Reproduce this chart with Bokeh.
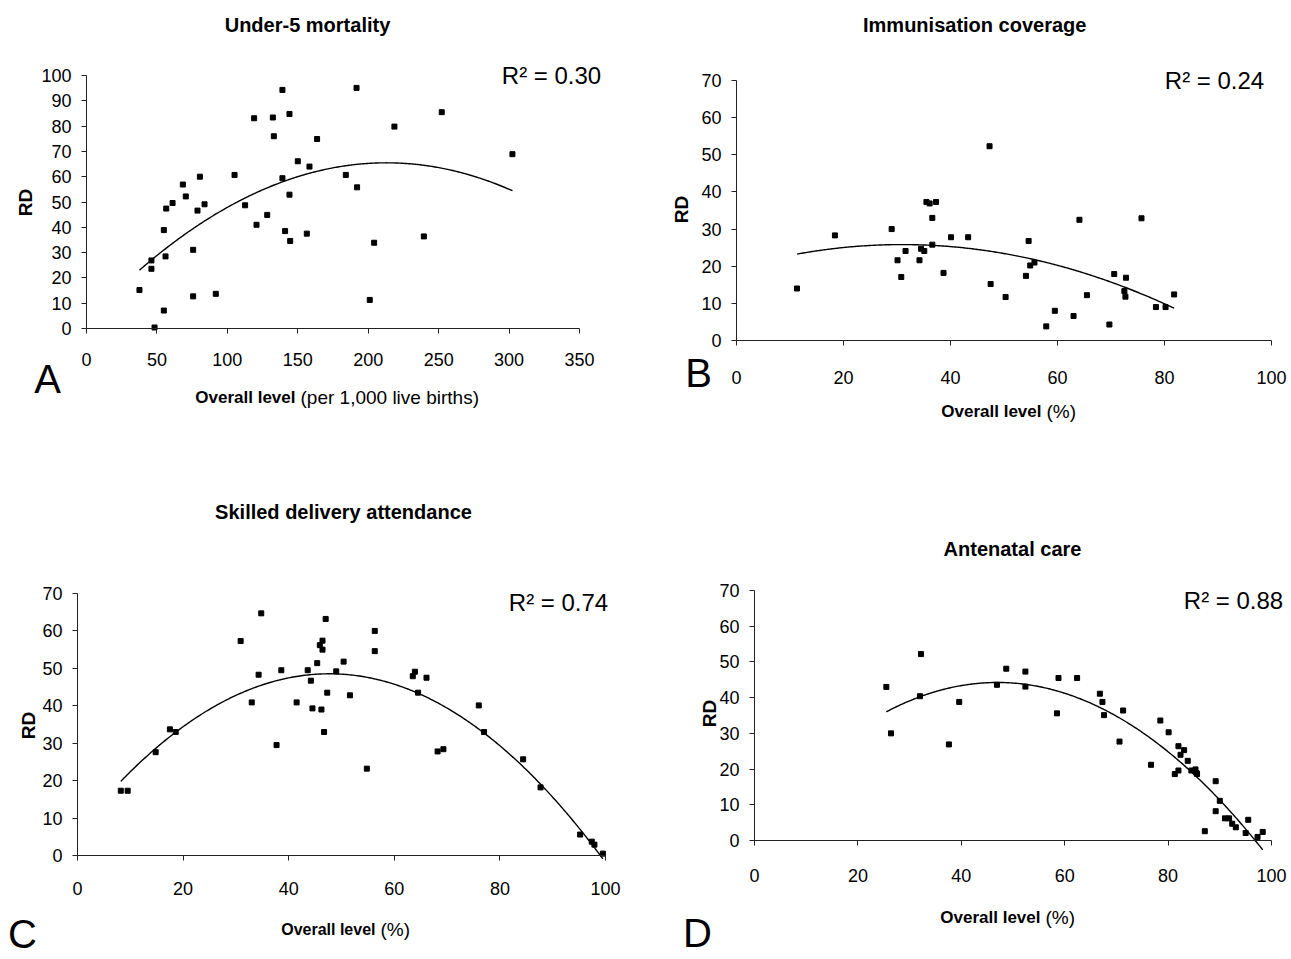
import numpy as np
from math import pi
from bokeh.plotting import figure
from bokeh.models import Range1d, FixedTicker, Label
from bokeh.layouts import row, column
from bokeh.embed import file_html
from bokeh.resources import INLINE

# ---------------- data ----------------
a_title = "Under-5 mortality"
a_x = [37.6, 46.1, 46.1, 48.3, 54.9, 54.9, 56.1, 56.6, 61.1, 68.4, 70.5, 75.7, 75.7,
       78.8, 80.5, 83.8, 91.8, 105.1, 112.6, 119.0, 120.7, 128.3, 132.3, 133.0, 139.1,
       139.1, 141.0, 144.1, 144.1, 144.6, 150.0, 156.4, 158.3, 163.7, 184.1, 191.7,
       192.1, 201.1, 204.2, 218.6, 239.5, 252.2, 302.4]
a_y = [15.2, 26.9, 23.6, 0.4, 7.1, 38.9, 28.5, 47.4, 49.6, 56.9, 52.2, 31.1, 12.7,
       46.6, 60.0, 49.1, 13.7, 60.7, 48.7, 83.1, 41.0, 44.9, 83.4, 76.0, 94.3,
       59.4, 38.5, 84.8, 52.9, 34.6, 66.1, 37.5, 64.0, 74.9, 60.7, 95.1,
       55.8, 11.3, 33.9, 79.8, 36.4, 85.5, 68.9]
a_r2 = "0.30"
a_xticks = [0, 50, 100, 150, 200, 250, 300, 350]
a_yticks = [0, 10, 20, 30, 40, 50, 60, 70, 80, 90, 100]

b_title = "Immunisation  coverage"
b_x = [11.3, 18.4, 29.0, 30.1, 30.8, 31.6, 34.2, 34.5, 35.1, 35.5, 36.1, 36.6, 36.6,
       37.3, 38.7, 40.1, 43.3, 47.3, 47.5, 50.3, 54.1, 54.6, 54.9, 55.7, 57.9, 59.5,
       63.0, 64.1, 65.5, 69.7, 70.6, 72.5, 72.7, 72.8, 75.7, 78.4, 80.2, 81.8]
b_y = [14.0, 28.3, 30.0, 21.6, 17.1, 24.1, 21.6, 24.7, 24.1, 37.3, 36.9, 33.0, 25.8,
       37.3, 18.2, 27.8, 27.8, 52.3, 15.2, 11.7, 17.4, 26.8, 20.2, 21.0, 3.8, 8.0,
       6.6, 32.5, 12.2, 4.3, 17.9, 13.3, 11.8, 16.9, 32.9, 9.0, 9.0, 12.4]
b_r2 = "0.24"

c_title = "Skilled delivery attendance"
c_x = [8.2, 9.5, 14.8, 17.5, 18.6, 30.9, 33.0, 34.3, 34.8, 37.7, 38.6, 41.5, 43.6,
       44.2, 44.5, 45.4, 45.9, 46.2, 46.4, 46.4, 46.7, 47.0, 47.3, 49.0, 50.4, 51.6,
       54.8, 56.3, 56.3, 63.5, 63.9, 64.5, 66.1, 68.2, 69.3, 76.0, 77.0, 84.4, 87.7,
       95.2, 97.4, 97.9, 99.5]
c_y = [17.3, 17.3, 27.6, 33.7, 33.0, 57.3, 40.9, 48.3, 64.7, 29.5, 49.5, 40.9, 49.5,
       46.7, 39.3, 51.4, 56.2, 39.0, 57.4, 55.0, 33.0, 63.2, 43.5, 49.2, 51.8, 42.8,
       23.2, 60.0, 54.6, 47.9, 49.1, 43.5, 47.5, 27.8, 28.4, 40.1, 33.0, 25.7, 18.2,
       5.6, 3.7, 2.9, 0.5]
c_r2 = "0.74"

d_title = "Antenatal care"
d_x = [25.5, 26.4, 32.0, 32.2, 37.6, 39.6, 46.9, 48.7, 52.4, 52.4, 58.5, 58.8, 62.4,
       66.8, 67.3, 67.6, 70.6, 71.3, 76.7, 78.5, 80.1, 81.3, 82.0, 82.0, 82.4, 83.1,
       83.8, 84.5, 85.3, 85.5, 85.6, 87.1, 89.2, 89.2, 90.0, 91.0, 91.8, 92.4, 93.1,
       95.0, 95.5, 97.3, 98.3]
d_y = [43.0, 30.0, 40.4, 52.2, 26.9, 38.8, 43.6, 48.1, 47.3, 43.1, 35.6, 45.5, 45.5,
       41.1, 38.8, 35.1, 27.7, 36.4, 21.2, 33.6, 30.3, 18.6, 19.6, 26.4, 24.0, 25.3,
       22.3, 19.6, 19.9, 18.9, 18.6, 2.6, 16.6, 8.2, 11.1, 6.2, 6.2, 4.7, 3.7,
       2.1, 5.8, 1.0, 2.4]
d_r2 = "0.88"

pct_xticks = [0, 20, 40, 60, 80, 100]
pct_yticks = [0, 10, 20, 30, 40, 50, 60, 70]

y_label = "RD"
x_label_bold = "Overall level"
a_x_label_rest = "(per 1,000 live births)"
pct_x_label_rest = "(%)"

FONT = "Liberation Sans"


def make_panel(xs, ys, xticks, yticks, origin, size, axes_px, cfg):
    """origin/size: figure box on the page; axes_px: page pixels of
    (x=0, x=max, y=0, y=max) so the scales can be set from the picture."""
    ox, oy = origin
    W, H = size
    X0, X1, Y0, Y1 = axes_px
    xmax, ymax = xticks[-1], yticks[-1]
    kx = (X1 - X0) / xmax
    ky = (Y0 - Y1) / ymax
    xr = ((ox - X0) / kx, (ox + W - X0) / kx)
    yr = (-(oy + H - Y0) / ky, (Y0 - oy) / ky)

    p = figure(width=W, height=H, output_backend="svg", toolbar_location=None,
               x_range=Range1d(*xr), y_range=Range1d(*yr), min_border=0,
               min_border_left=0, min_border_right=0, min_border_top=0,
               min_border_bottom=0)
    p.title.visible = False
    p.outline_line_color = None
    p.xgrid.visible = False
    p.ygrid.visible = False
    p.background_fill_color = "white"
    p.border_fill_color = "white"
    for ax in (p.xaxis[0], p.yaxis[0]):
        ax.fixed_location = 0
        ax.axis_line_color = "#222222"
        ax.axis_line_width = 1
        ax.major_tick_line_color = "#222222"
        ax.major_tick_in = 0
        ax.major_tick_out = 5
        ax.minor_tick_line_color = None
        ax.major_label_text_font = FONT
        ax.major_label_text_font_size = "18px"
        ax.major_label_text_color = "black"
    p.xaxis[0].ticker = FixedTicker(ticks=xticks)
    p.yaxis[0].ticker = FixedTicker(ticks=yticks)
    p.xaxis[0].bounds = (0, xmax)
    p.yaxis[0].bounds = (0, ymax)
    p.xaxis[0].major_label_standoff = cfg["x_stand"]
    p.yaxis[0].major_label_standoff = 10

    coef = np.polyfit(xs, ys, 2)
    xx = np.linspace(min(xs), max(xs), 300)
    p.line(xx, np.polyval(coef, xx), line_color="black", line_width=1.4)
    p.scatter(xs, ys, marker="square", size=5, fill_color="black", line_color="black")

    def lab(pos, text, size="18px", style="normal", align="center",
            baseline="middle", angle=0.0):
        px, py = pos
        x = (px - X0) / kx
        y = (Y0 - py) / ky
        p.add_layout(Label(x=x, y=y, text=text, text_font=FONT, text_font_size=size,
                           text_font_style=style, text_align=align,
                           text_baseline=baseline, angle=angle, text_color="black"))

    lab(cfg["title_pos"], cfg["title"], size="20px", style="bold")
    lab(cfg["rd_pos"], y_label, size="19px", style="bold", angle=pi / 2)
    lab(cfg["letter_pos"], cfg["letter"], size="40px")
    jx, jy = cfg["xl_pos"]
    lab((jx - 2, jy), x_label_bold, size=cfg["xl_bold_size"], style="bold", align="right")
    lab((jx + 3, jy), cfg["xl_rest"], size="19px", align="left")
    lab(cfg["r2_pos"], "R\u00b2 = " + cfg["r2"], size="24px")
    return p


pA = make_panel(a_x, a_y, a_xticks, a_yticks, (0, 0), (648, 478), (86, 579, 328, 75),
                dict(title=a_title, title_pos=(307, 24), rd_pos=(25, 202), letter="A",
                     letter_pos=(47, 378), xl_rest=a_x_label_rest, xl_pos=(297, 397),
                     xl_bold_size="17px", r2=a_r2, r2_pos=(551, 75), x_stand=19))
pB = make_panel(b_x, b_y, pct_xticks, pct_yticks, (648, 0), (642, 478), (736, 1271, 340, 80),
                dict(title=b_title, title_pos=(977, 24), rd_pos=(681, 209), letter="B",
                     letter_pos=(698, 372), xl_rest=pct_x_label_rest, xl_pos=(1043, 411),
                     xl_bold_size="17px", r2=b_r2, r2_pos=(1214, 80), x_stand=25))
pC = make_panel(c_x, c_y, pct_xticks, pct_yticks, (0, 478), (648, 480), (77, 605, 855, 593),
                dict(title=c_title, title_pos=(343, 511), rd_pos=(28, 725), letter="C",
                     letter_pos=(22, 933), xl_rest=pct_x_label_rest, xl_pos=(377, 929),
                     xl_bold_size="16px", r2=c_r2, r2_pos=(558, 602), x_stand=21))
pD = make_panel(d_x, d_y, pct_xticks, pct_yticks, (648, 478), (642, 480), (754, 1271, 840, 590),
                dict(title=d_title, title_pos=(1012, 548), rd_pos=(709, 713), letter="D",
                     letter_pos=(697, 932), xl_rest=pct_x_label_rest, xl_pos=(1042, 917),
                     xl_bold_size="17px", r2=d_r2, r2_pos=(1233, 600), x_stand=23))

layout = column(row(pA, pB), row(pC, pD))
open("out.html", "w").write(file_html(layout, INLINE))
